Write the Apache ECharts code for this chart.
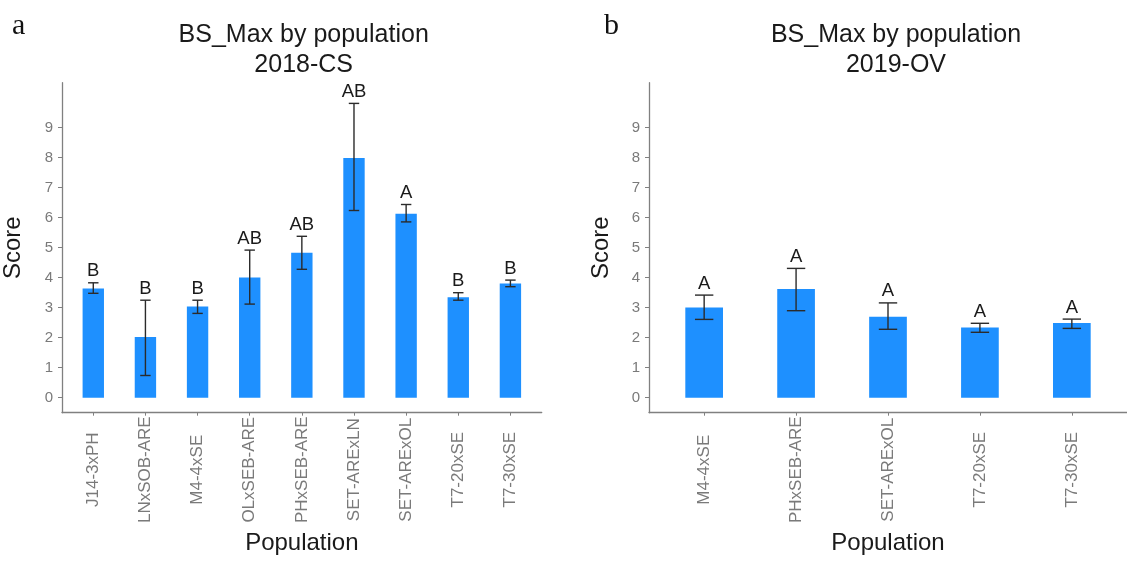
<!DOCTYPE html>
<html><head><meta charset="utf-8">
<script src="https://cdn.jsdelivr.net/npm/echarts@6/dist/echarts.min.js"></script>
<style>html,body{margin:0;padding:0;background:#fff}#c{width:1127px;height:561px}</style>
</head><body><div id="c"></div>
<script>
// ---- data ----
const categoriesCS = ['J14-3xPH','LNxSOB-ARE','M4-4xSE','OLxSEB-ARE','PHxSEB-ARE','SET-ARExLN','SET-ARExOL','T7-20xSE','T7-30xSE'];
const meansCS  = [3.64, 2.02, 3.04, 4.01, 4.83, 7.99, 6.13, 3.35, 3.81];
const upperCS  = [3.83, 3.25, 3.25, 4.92, 5.38, 9.81, 6.44, 3.50, 3.92];
const lowerCS  = [3.48, 0.74, 2.81, 3.12, 4.28, 6.24, 5.86, 3.25, 3.70];
const lettersCS = ['B','B','B','AB','AB','AB','A','B','B'];

const categoriesOV = ['M4-4xSE','PHxSEB-ARE','SET-ARExOL','T7-20xSE','T7-30xSE'];
const meansOV  = [3.01, 3.62, 2.70, 2.34, 2.49];
const upperOV  = [3.42, 4.31, 3.16, 2.48, 2.62];
const lowerOV  = [2.61, 2.90, 2.28, 2.18, 2.31];
const lettersOV = ['A','A','A','A','A'];

const yTicks = [0,1,2,3,4,5,6,7,8,9];
const titleMain = 'BS_Max by population';
const subCS = '2018-CS';
const subOV = '2019-OV';

// ---- chart ----
const FONT = 'Liberation Sans';
const axisGrey = '#808080';
const textDark = '#1a1a1a';
const tickGrey = '#7a7a7a';

function positions(cats){ return cats.map((c,i)=>i+1); }

function makeXAxis(gridIndex, cats){
  const pos = positions(cats);
  return {
    type:'value', gridIndex, min:0.4, max:cats.length+0.6,
    name:'Population', nameLocation:'middle', nameGap:117,
    nameTextStyle:{fontFamily:FONT, fontSize:24, color:textDark},
    axisLine:{show:true, onZero:false, lineStyle:{color:axisGrey, width:1.3}},
    axisTick:{show:true, customValues:pos, length:3, lineStyle:{color:axisGrey}},
    axisLabel:{show:true, customValues:pos, rotate:90, align:'center', margin:57,
      fontFamily:FONT, fontSize:17, color:tickGrey,
      formatter:v=>cats[Math.round(v)-1] || ''},
    splitLine:{show:false}
  };
}
function makeYAxis(gridIndex, gap){
  return {
    type:'value', gridIndex, min:-0.5, max:10.5,
    name:'Score', nameLocation:'middle', nameGap:gap,
    nameTextStyle:{fontFamily:FONT, fontSize:24, color:textDark},
    axisLine:{show:true, onZero:false, lineStyle:{color:axisGrey, width:1.3}},
    axisTick:{show:true, customValues:yTicks, length:4, lineStyle:{color:axisGrey}},
    axisLabel:{show:true, customValues:yTicks, margin:9, fontFamily:FONT, fontSize:15, color:tickGrey},
    splitLine:{show:false}
  };
}
function errRender(letters){
  return function(params, api){
    const x = api.value(0), lo = api.value(1), hi = api.value(2);
    const pLo = api.coord([x, lo]);
    const pHi = api.coord([x, hi]);
    const half = api.size([0.2, 0])[0] / 2;
    const ls = {stroke:'#2b2b2b', lineWidth:1.4};
    return {type:'group', children:[
      {type:'line', shape:{x1:pLo[0], y1:pLo[1], x2:pHi[0], y2:pHi[1]}, style:ls},
      {type:'line', shape:{x1:pLo[0]-half, y1:pLo[1], x2:pLo[0]+half, y2:pLo[1]}, style:ls},
      {type:'line', shape:{x1:pHi[0]-half, y1:pHi[1], x2:pHi[0]+half, y2:pHi[1]}, style:ls},
      {type:'text', style:{text:letters[params.dataIndex], x:pHi[0], y:pHi[1]-2,
        textAlign:'center', textVerticalAlign:'bottom', fontFamily:FONT, fontSize:18.5, fill:textDark}}
    ]};
  };
}

const chart = echarts.init(document.getElementById('c'), null, {renderer:'canvas'});
chart.setOption({
  backgroundColor:'#fff',
  animation:false,
  title:[
    {text:titleMain+'\n'+subCS, left:298.7, top:15, textAlign:'center',
      textStyle:{fontFamily:FONT, fontSize:25, fontWeight:'normal', lineHeight:30, color:textDark}},
    {text:titleMain+'\n'+subOV, left:891, top:15, textAlign:'center',
      textStyle:{fontFamily:FONT, fontSize:25, fontWeight:'normal', lineHeight:30, color:textDark}},
    {text:'a', left:7, top:6, textStyle:{fontFamily:'Liberation Serif', fontSize:30, fontWeight:'normal', color:'#111'}},
    {text:'b', left:599, top:6, textStyle:{fontFamily:'Liberation Serif', fontSize:30, fontWeight:'normal', color:'#111'}}
  ],
  grid:[
    {left:55.7, width:486, top:82.7, height:330},
    {left:649, right:0, top:82.7, height:330}
  ],
  xAxis:[ makeXAxis(0, categoriesCS), makeXAxis(1, categoriesOV) ],
  yAxis:[ makeYAxis(0, 37), makeYAxis(1, 36) ],
  series:[
    {type:'bar', xAxisIndex:0, yAxisIndex:0, barWidth:'41%',
      itemStyle:{color:'#1E90FF'},
      data:meansCS.map((v,i)=>[i+1, v])},
    {type:'custom', xAxisIndex:0, yAxisIndex:0, renderItem:errRender(lettersCS),
      encode:{x:0, y:[1,2]}, z:5,
      data:meansCS.map((v,i)=>[i+1, lowerCS[i], upperCS[i]])},
    {type:'bar', xAxisIndex:1, yAxisIndex:1, barWidth:'41%',
      itemStyle:{color:'#1E90FF'},
      data:meansOV.map((v,i)=>[i+1, v])},
    {type:'custom', xAxisIndex:1, yAxisIndex:1, renderItem:errRender(lettersOV),
      encode:{x:0, y:[1,2]}, z:5,
      data:meansOV.map((v,i)=>[i+1, lowerOV[i], upperOV[i]])}
  ]
});
</script>
</body></html>
